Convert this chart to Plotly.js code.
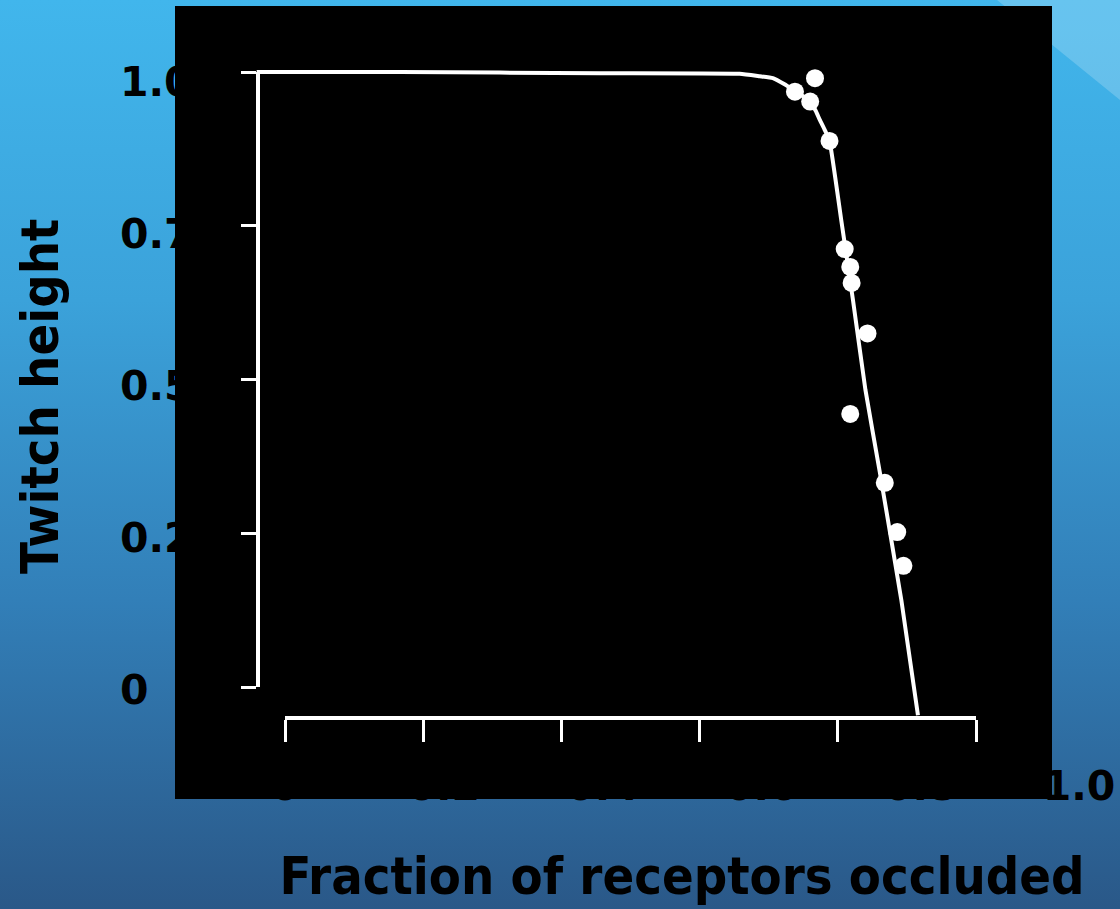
<!DOCTYPE html>
<html>
<head>
<meta charset="utf-8">
<script src="https://cdn.plot.ly/plotly-3.0.1.min.js"></script>
<style>
html,body{margin:0;padding:0;}
body{width:1120px;height:909px;overflow:hidden;
background:linear-gradient(to bottom,#41b6ec 0%,#3ba2da 33%,#327fb8 66%,#2a5888 100%);}
#chart{width:1120px;height:909px;}
</style>
</head>
<body>
<div id="chart"></div>
<script>
// ---- slide axis labels ----
const slideXTickVals = [0, 0.2, 0.4, 0.6, 0.8, 1.0];
const slideXTickText = ["0", "0.2", "0.4", "0.6", "0.8", "1.0"];
const slideYTickVals = [0, 0.25, 0.5, 0.75, 1.0];
const slideYTickText = ["0", "0.25", "0.5", "0.75", "1.0"];
const xTitle = "Fraction of receptors occluded";
const yTitle = "Twitch height";

// ---- scanned figure axes ticks ----
const figXTicks = [0, 0.2, 0.4, 0.6, 0.8, 1.0];
const figYTicks = [0, 0.25, 0.5, 0.75, 1.0];

// ---- drawn curve ----
const curveX = [-0.041, 0.166, 0.456, 0.658, 0.687, 0.706, 0.723, 0.738, 0.749, 0.760, 0.768, 0.774, 0.781, 0.788, 0.805, 0.822, 0.840, 0.861, 0.892, 0.916];
const curveY = [1.000, 1.000, 0.998, 0.997, 0.993, 0.990, 0.980, 0.969, 0.961, 0.951, 0.937, 0.922, 0.906, 0.888, 0.759, 0.629, 0.483, 0.348, 0.141, -0.046];

// ---- measured points ----
const ptsX = [0.738, 0.767, 0.760, 0.788, 0.810, 0.818, 0.820, 0.843, 0.818, 0.868, 0.886, 0.895];
const ptsY = [0.968, 0.990, 0.952, 0.888, 0.712, 0.683, 0.657, 0.575, 0.444, 0.332, 0.252, 0.197];

// ---- layout geometry (pixels) ----
const W = 1120, H = 909;
const fx = px => px / W;
const fy = py => 1 - py / H;
const RECT = {l: 175, r: 1052, t: 6, b: 799};          // black picture
const FIG = {x0: 285, x1: 976, y0: 687, y1: 72};       // data 0..1 in picture
const FIG_XAXIS_Y = 717, FIG_YAXIS_X = 257;
const pxPerX = FIG.x1 - FIG.x0, pxPerY = FIG.y0 - FIG.y1;
const x2range = [(RECT.l - FIG.x0) / pxPerX, (RECT.r - FIG.x0) / pxPerX];
const y2range = [(FIG.y0 - RECT.b) / pxPerY, (FIG.y0 - RECT.t) / pxPerY];

const labelFont = {family: "DejaVu Sans, Verdana, sans-serif", size: 41, color: "#000", weight: 700};
const titleFont = {family: "DejaVu Sans Condensed, DejaVu Sans, sans-serif", size: 52, color: "#000", weight: 700};

const data = [
  {type: "scatter", x: [], y: [], xaxis: "x", yaxis: "y", showlegend: false, hoverinfo: "skip"},
  {type: "scatter", mode: "lines", x: curveX, y: curveY, xaxis: "x2", yaxis: "y2",
   line: {color: "#ffffff", width: 4, shape: "spline", smoothing: 0.4}, showlegend: false},
  {type: "scatter", mode: "markers", x: ptsX, y: ptsY, xaxis: "x2", yaxis: "y2",
   marker: {color: "#ffffff", size: 18, line: {width: 0}}, cliponaxis: false, showlegend: false},
  {type: "scatter", x: [], y: [], xaxis: "x3", yaxis: "y3", showlegend: false, hoverinfo: "skip"}
];

const layout = {
  width: W, height: H,
  margin: {l: 0, r: 0, t: 0, b: 0},
  paper_bgcolor: "rgba(0,0,0,0)",
  plot_bgcolor: "rgba(0,0,0,0)",
  showlegend: false,
  xaxis: {
    domain: [fx(285), fx(1079)], range: [0, 1], anchor: "free", position: fy(758),
    tickmode: "array", tickvals: slideXTickVals, ticktext: slideXTickText,
    showline: false, showgrid: false, zeroline: false, ticks: "",
    tickfont: labelFont, automargin: false,
    title: {text: xTitle, font: titleFont, standoff: 48}
  },
  yaxis: {
    domain: [fy(690), fy(82)], range: [0, 1], anchor: "free", position: fx(119), side: "right",
    tickmode: "array", tickvals: slideYTickVals, ticktext: slideYTickText,
    showline: false, showgrid: false, zeroline: false, ticks: "",
    tickfont: labelFont, automargin: false
  },
  xaxis2: {domain: [fx(RECT.l), fx(RECT.r)], range: x2range, anchor: "y2", visible: false, fixedrange: true},
  yaxis2: {domain: [fy(RECT.b), fy(RECT.t)], range: y2range, anchor: "x2", visible: false, fixedrange: true},
  xaxis3: {
    domain: [fx(FIG.x0), fx(FIG.x1)], range: [0, 1], anchor: "free", position: fy(FIG_XAXIS_Y),
    tickmode: "array", tickvals: figXTicks, showticklabels: false,
    showline: true, linecolor: "#ffffff", linewidth: 3.5,
    ticks: "outside", ticklen: 22, tickwidth: 3, tickcolor: "#ffffff",
    showgrid: false, zeroline: false, automargin: false
  },
  yaxis3: {
    domain: [fy(FIG.y0), fy(FIG.y1)], range: [0, 1], anchor: "free", position: fx(FIG_YAXIS_X),
    tickmode: "array", tickvals: figYTicks, showticklabels: false,
    showline: true, linecolor: "#ffffff", linewidth: 3.5,
    ticks: "outside", ticklen: 15, tickwidth: 3, tickcolor: "#ffffff",
    showgrid: false, zeroline: false, automargin: false
  },
  shapes: [
    {type: "path", xref: "paper", yref: "paper", layer: "below",
     path: `M ${fx(997)} 1 L 1 ${fy(100)} L 1 1 Z`,
     fillcolor: "rgba(255,255,255,0.2)", line: {width: 0}},
    {type: "rect", xref: "x2", yref: "y2", layer: "below",
     x0: x2range[0], x1: x2range[1], y0: y2range[0], y1: y2range[1],
     fillcolor: "#000000", line: {width: 0}}
  ],
  annotations: [
    {text: yTitle, xref: "paper", yref: "paper", x: fx(40), y: fy(397),
     textangle: -90, showarrow: false, xanchor: "center", yanchor: "middle", font: titleFont}
  ]
};

Plotly.newPlot("chart", data, layout, {displayModeBar: false, staticPlot: true});
</script>
</body>
</html>
